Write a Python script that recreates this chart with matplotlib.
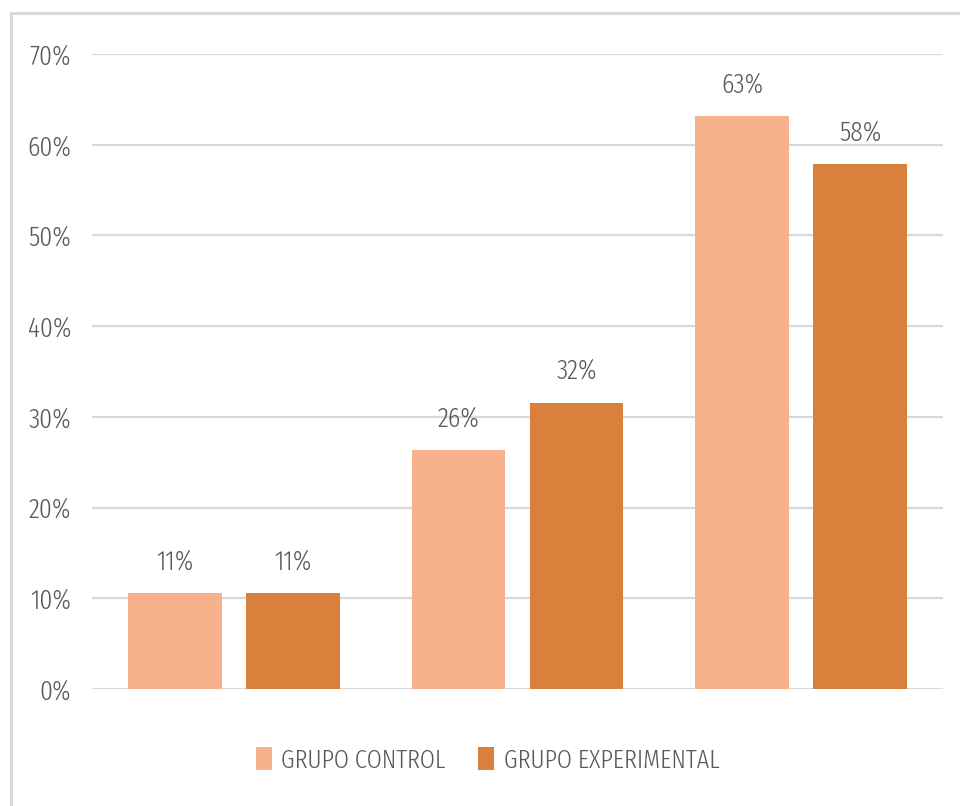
import matplotlib
matplotlib.use("Agg")
import matplotlib.pyplot as plt
from matplotlib.patches import Rectangle
import numpy as np

plt.rcParams['font.family'] = ['Fira Sans Extra Condensed', 'DejaVu Sans']
plt.rcParams['font.weight'] = 300

groups = ["1", "2", "3"]
series_names = ["GRUPO CONTROL", "GRUPO EXPERIMENTAL"]
control = [0.1053, 0.2632, 0.6316]
experimental = [0.1053, 0.3158, 0.5789]
y_ticks = [0.0, 0.1, 0.2, 0.3, 0.4, 0.5, 0.6, 0.7]

c_control = "#F7B28C"
c_exp = "#D9813C"
text_color = "#595959"
grid_color = "#D9D9D9"
fs = 20

fig = plt.figure(figsize=(9.6, 8.06), dpi=100)
ax = fig.add_axes([92/960, 1-689/806, (943-92)/960, (689-54)/806])

x = np.arange(len(groups))
w = 0.331
off = 0.208
b1 = ax.bar(x - off, control, w, color=c_control, label=series_names[0], zorder=3)
b2 = ax.bar(x + off, experimental, w, color=c_exp, label=series_names[1], zorder=3)

for bars in (b1, b2):
    ax.bar_label(bars, labels=[f"{v:.0%}" for v in bars.datavalues],
                 padding=13, fontsize=fs, color=text_color)

ax.set_xlim(-0.5, len(groups) - 0.5)
ax.set_ylim(0, 0.7)
ax.set_yticks(y_ticks)
ax.set_yticklabels([f"{t:.0%}" for t in y_ticks], fontsize=fs, color=text_color)
ax.tick_params(axis='y', length=0, pad=15)
ax.set_xticks([])
ax.yaxis.grid(True, color=grid_color, linewidth=1.6, zorder=0)
for s in ax.spines.values():
    s.set_visible(False)

fig.legend(loc='center', bbox_to_anchor=(0.508, 1-760/806), ncol=2, frameon=False,
           fontsize=19, labelcolor=text_color, handlelength=0.6, handleheight=0.95,
           handletextpad=0.35, columnspacing=1.25)

fig.patches.append(Rectangle((11/960, -0.2), 1.2, 1 - 13/806 + 0.2,
                             transform=fig.transFigure, fill=False,
                             edgecolor=grid_color, linewidth=2.2))

fig.savefig("out.png", dpi=100, facecolor="white")
